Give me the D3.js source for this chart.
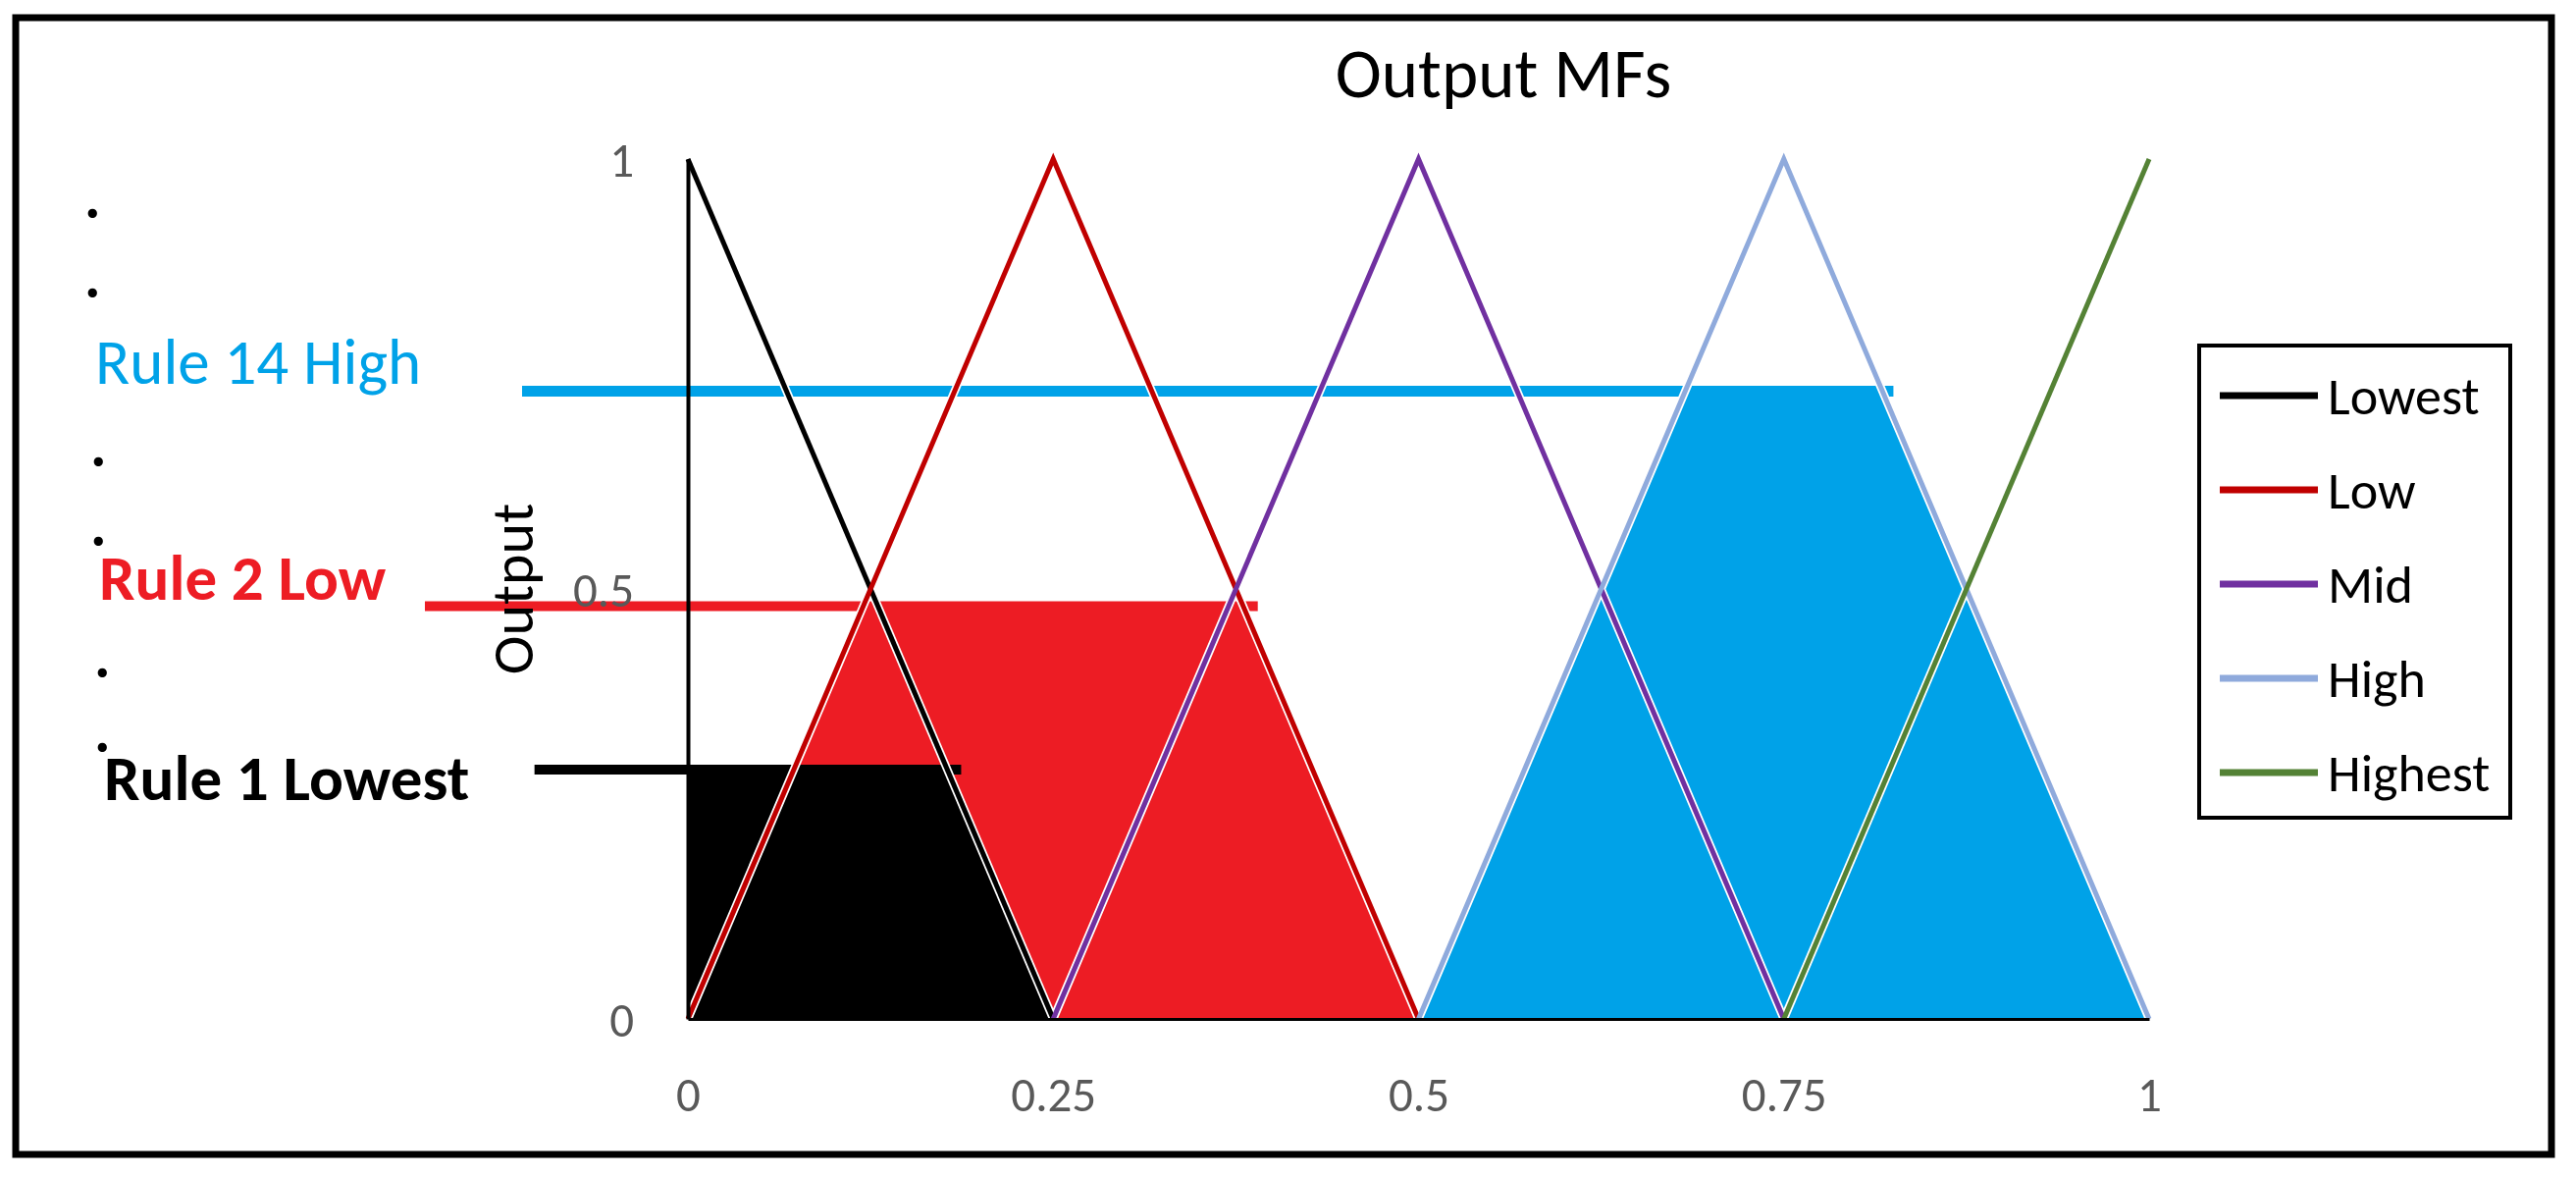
<!DOCTYPE html>
<html>
<head>
<meta charset="utf-8">
<script src="https://cdn.jsdelivr.net/npm/d3@7/dist/d3.min.js"></script>
<style>
  html, body { margin: 0; padding: 0; background: #fff; }
  svg { display: block; }
  text { font-family: Carlito, Calibri, Lato, "Open Sans", sans-serif; }
</style>
</head>
<body>
<svg id="chart" width="2625" height="1199"></svg>
<script>
// ---------------- DATA ----------------
const xTicks = [0, 0.25, 0.5, 0.75, 1];
const yTicks = [0, 0.5, 1];

const mfNames  = ["Lowest", "Low", "Mid", "High", "Highest"];
const mfColors = ["#000000", "#C00000", "#7030A0", "#8FAADC", "#548235"];
const mfX = [[0, 0.25], [0, 0.25, 0.5], [0.25, 0.5, 0.75], [0.5, 0.75, 1], [0.75, 1]];
const mfY = [[1, 0],    [0, 1, 0],      [0, 1, 0],         [0, 1, 0],      [0, 1]];

const ruleLabels   = ["Rule 14 High", "Rule 2 Low", "Rule 1 Lowest"];
const ruleMF       = ["High", "Low", "Lowest"];
const ruleLevels   = [0.73, 0.48, 0.29];
const ruleLineFrom = [-0.1135, -0.18, -0.105];
const ruleLineTo   = [0.825, 0.39, 0.187];
const ruleColors   = ["#00A2E8", "#ED1C24", "#000000"];
const ruleWeights  = ["normal", "bold", "bold"];

const titleText = "Output MFs";
const yTitle = "Output";
const dotLabels = [".", ".", ".", ".", ".", "."];

// ---------------- LAYOUT ----------------
const svg = d3.select("#chart");
const x = d3.scaleLinear().domain([0, 1]).range([701, 2190]);
const y = d3.scaleLinear().domain([0, 1]).range([1038, 162]);

// outer frame
svg.append("rect")
  .attr("x", 16).attr("y", 18).attr("width", 2584).attr("height", 1158)
  .attr("fill", "#fff").attr("stroke", "#000").attr("stroke-width", 7);

// clip helper: membership function polygon clipped at level h
function clipPoly(xs, ys, h) {
  const pts = [[xs[0], 0], ...xs.map((v, i) => [v, ys[i]]), [xs[xs.length - 1], 0]];
  const out = [];
  for (let i = 0; i < pts.length; i++) {
    const a = pts[i], b = pts[(i + 1) % pts.length];
    const ain = a[1] <= h, bin = b[1] <= h;
    if (ain) out.push(a);
    if (ain !== bin) {
      const t = (h - a[1]) / (b[1] - a[1]);
      out.push([a[0] + t * (b[0] - a[0]), h]);
    }
  }
  return out;
}

const line = d3.line().x(d => x(d[0])).y(d => y(d[1]));

// fills (order: red, black, blue)
const fillOrder = [1, 2, 0];
const gFill = svg.append("g");
fillOrder.forEach(r => {
  const k = mfNames.indexOf(ruleMF[r]);
  gFill.append("path")
    .attr("d", line(clipPoly(mfX[k], mfY[k], ruleLevels[r])) + "Z")
    .attr("fill", ruleColors[r]);
});

// rule lines
const gRule = svg.append("g");
ruleLabels.forEach((lab, r) => {
  gRule.append("line")
    .attr("x1", x(ruleLineFrom[r])).attr("x2", x(ruleLineTo[r]))
    .attr("y1", y(ruleLevels[r])).attr("y2", y(ruleLevels[r]))
    .attr("stroke", ruleColors[r])
    .attr("stroke-width", r === 0 ? 11 : 10);
});

// MF lines with white halo
const mfData = mfNames.map((n, k) => mfX[k].map((v, i) => [v, mfY[k][i]]));
const gHalo = svg.append("g");
mfData.forEach((pts) => {
  gHalo.append("path").attr("d", line(pts))
    .attr("fill", "none").attr("stroke", "#fff").attr("stroke-width", 8.5)
    .attr("stroke-linejoin", "miter");
});
const gMF = svg.append("g");
mfData.forEach((pts, k) => {
  gMF.append("path").attr("d", line(pts))
    .attr("fill", "none").attr("stroke", mfColors[k]).attr("stroke-width", 5)
    .attr("stroke-linejoin", "miter");
});

// axes
const yAxis = d3.axisLeft(y).tickValues(yTicks).tickFormat(d3.format("")).tickSize(0).tickSizeOuter(0).tickPadding(55);
const gy = svg.append("g").attr("transform", `translate(${x(0)},0)`).call(yAxis);
gy.select(".domain").attr("stroke", "#000").attr("stroke-width", 4);
gy.selectAll("text").attr("font-size", 49).attr("fill", "#595959")
  .attr("font-family", "Carlito, Calibri, Lato, sans-serif").attr("dy", "0.36em");

const xAxis = d3.axisBottom(x).tickValues(xTicks).tickFormat(d3.format("")).tickSize(0).tickSizeOuter(0).tickPadding(59);
const gx = svg.append("g").attr("transform", `translate(0,${y(0)})`).call(xAxis);
gx.select(".domain").attr("stroke", "#000").attr("stroke-width", 3);
gx.selectAll("text").attr("font-size", 49).attr("fill", "#595959")
  .attr("font-family", "Carlito, Calibri, Lato, sans-serif").attr("dy", "0.72em");

// y axis title
svg.append("text")
  .attr("transform", `translate(543,${y(0.5)}) rotate(-90)`)
  .attr("text-anchor", "middle")
  .attr("font-size", 60).attr("fill", "#000")
  .text(yTitle);

// chart title
svg.append("text")
  .attr("x", 1532).attr("y", 99)
  .attr("text-anchor", "middle")
  .attr("font-size", 71).attr("fill", "#000")
  .text(titleText);

// rule labels
const ruleLabelX = [97, 101, 106];
const ruleLabelY = [391, 611, 815];
ruleLabels.forEach((lab, r) => {
  svg.append("text")
    .attr("x", ruleLabelX[r]).attr("y", ruleLabelY[r])
    .attr("font-size", 65).attr("font-weight", ruleWeights[r])
    .attr("fill", ruleColors[r])
    .text(lab);
});

// dots
const dotX = [86, 86, 92, 92, 96, 96];
const dotY = [222, 303, 475, 556, 690, 766];
dotLabels.forEach((t, i) => {
  svg.append("text")
    .attr("x", dotX[i]).attr("y", dotY[i])
    .attr("font-size", 62).attr("font-weight", "bold").attr("fill", "#000")
    .text(t);
});

// legend
const lg = svg.append("g");
lg.append("rect")
  .attr("x", 2241).attr("y", 352).attr("width", 317).attr("height", 481)
  .attr("fill", "#fff").attr("stroke", "#000").attr("stroke-width", 4);
const ly = d3.scalePoint().domain(mfNames).range([403, 787]);
mfNames.forEach((n, k) => {
  lg.append("line")
    .attr("x1", 2262).attr("x2", 2362)
    .attr("y1", ly(n)).attr("y2", ly(n))
    .attr("stroke", mfColors[k]).attr("stroke-width", 7);
  lg.append("text")
    .attr("x", 2372).attr("y", ly(n)).attr("dy", "0.36em")
    .attr("font-size", 54).attr("fill", "#000")
    .text(n);
});
</script>
</body>
</html>
